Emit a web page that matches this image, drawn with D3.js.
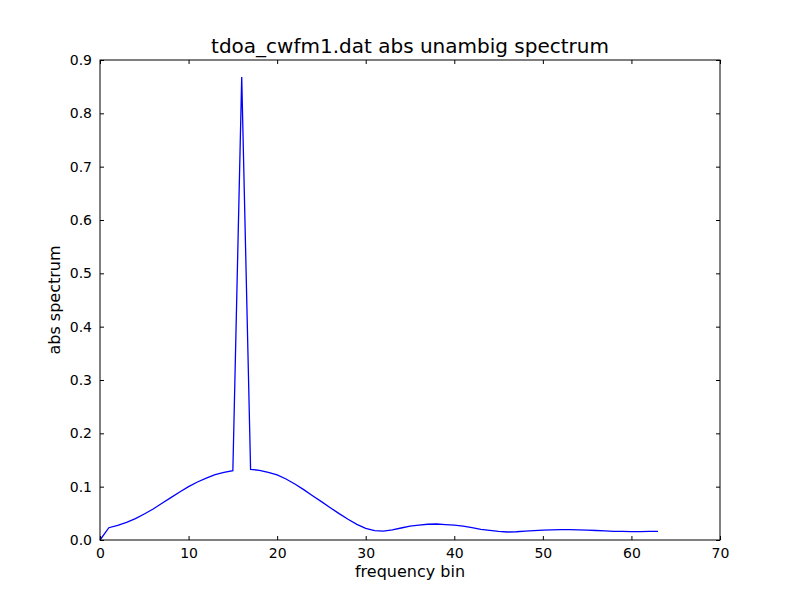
<!DOCTYPE html>
<html>
<head>
<meta charset="utf-8">
<script src="https://cdn.jsdelivr.net/npm/d3@7"></script>
<style>
  body { margin: 0; background: #fff; }
  text { font-family: "DejaVu Sans", sans-serif; fill: #000; }
</style>
</head>
<body>
<script>
// spectrum values, one per frequency bin (0..63)
const bins = d3.range(64);
const spectrum = [
  0.000, 0.023, 0.0275, 0.033, 0.040, 0.0488, 0.058, 0.0688, 0.0794, 0.090,
  0.100, 0.1088, 0.116, 0.1225, 0.127, 0.130, 0.868, 0.1325, 0.1306, 0.127,
  0.122, 0.1144, 0.105, 0.0944, 0.083, 0.0719, 0.0606, 0.0494, 0.0388, 0.0294,
  0.0219, 0.0175, 0.0165, 0.019, 0.0225, 0.026, 0.028, 0.0295, 0.030, 0.029,
  0.028, 0.026, 0.023, 0.020, 0.018, 0.016, 0.015, 0.0155, 0.0165, 0.0175,
  0.0185, 0.019, 0.0194, 0.0194, 0.019, 0.0185, 0.0178, 0.017, 0.0163, 0.016,
  0.0156, 0.0157, 0.016, 0.0163
];
const xTicks = [0, 10, 20, 30, 40, 50, 60, 70];
const yTicks = [0, 0.1, 0.2, 0.3, 0.4, 0.5, 0.6, 0.7, 0.8, 0.9];

const width = 800;
const height = 600;
const margin = { top: 60, right: 80, bottom: 60, left: 100 };

const svg = d3.select('body').append('svg')
  .attr('width', width)
  .attr('height', height);

const x = d3.scaleLinear().domain([0, 70]).range([margin.left, width - margin.right]);
const y = d3.scaleLinear().domain([0, 0.9]).range([height - margin.bottom, margin.top]);

// curve
const line = d3.line()
  .x((d, i) => x(bins[i]))
  .y(d => y(d));

svg.append('path')
  .datum(spectrum)
  .attr('fill', 'none')
  .attr('stroke', '#0000ff')
  .attr('stroke-width', 1.3)
  .attr('d', line);

// axes with inward ticks on all four sides
const tickLen = 4;
const axisStyle = g => {
  g.select('.domain').remove();
  g.selectAll('line').attr('stroke', '#000');
  g.selectAll('text').style('font-size', '14px').style('font-family', '"DejaVu Sans", sans-serif');
};

svg.append('g')
  .attr('transform', `translate(0,${height - margin.bottom})`)
  .call(d3.axisBottom(x).tickValues(xTicks).tickFormat(d3.format('d'))
    .tickSizeInner(-tickLen).tickSizeOuter(0).tickPadding(8))
  .call(axisStyle);

svg.append('g')
  .attr('transform', `translate(0,${margin.top})`)
  .call(d3.axisTop(x).tickValues(xTicks).tickFormat('')
    .tickSizeInner(-tickLen).tickSizeOuter(0))
  .call(axisStyle);

svg.append('g')
  .attr('transform', `translate(${margin.left},0)`)
  .call(d3.axisLeft(y).tickValues(yTicks).tickFormat(d3.format('.1f'))
    .tickSizeInner(-tickLen).tickSizeOuter(0).tickPadding(8))
  .call(axisStyle);

svg.append('g')
  .attr('transform', `translate(${width - margin.right},0)`)
  .call(d3.axisRight(y).tickValues(yTicks).tickFormat('')
    .tickSizeInner(-tickLen).tickSizeOuter(0))
  .call(axisStyle);

// frame
svg.append('rect')
  .attr('x', margin.left)
  .attr('y', margin.top)
  .attr('width', width - margin.left - margin.right)
  .attr('height', height - margin.top - margin.bottom)
  .attr('fill', 'none')
  .attr('stroke', '#000')
  .attr('stroke-width', 1);

// labels
svg.append('text')
  .attr('x', (margin.left + width - margin.right) / 2)
  .attr('y', 53)
  .attr('text-anchor', 'middle')
  .style('font-size', '20px')
  .text('tdoa_cwfm1.dat abs unambig spectrum');

svg.append('text')
  .attr('x', (margin.left + width - margin.right) / 2)
  .attr('y', 577)
  .attr('text-anchor', 'middle')
  .style('font-size', '16px')
  .text('frequency bin');

svg.append('text')
  .attr('transform', `translate(60,${(margin.top + height - margin.bottom) / 2}) rotate(-90)`)
  .attr('text-anchor', 'middle')
  .style('font-size', '16px')
  .text('abs spectrum');
</script>
</body>
</html>
